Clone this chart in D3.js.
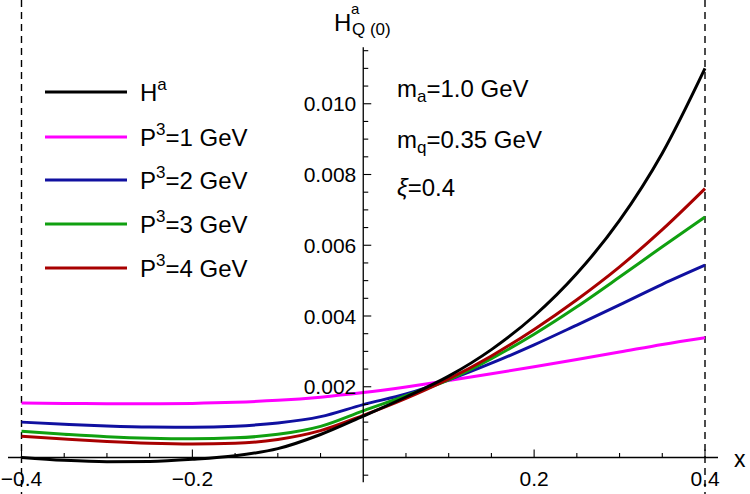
<!DOCTYPE html>
<html><head><meta charset="utf-8">
<script src="https://cdn.jsdelivr.net/npm/d3@7"></script>
<style>body{margin:0;background:#fff}svg{display:block}text{font-family:"Liberation Sans",Arial,sans-serif;fill:#000}</style>
</head><body><svg id="c" width="750" height="494"></svg>
<script>
const xs = [-0.4,-0.35,-0.3,-0.25,-0.2,-0.15,-0.1,-0.05,0,0.05,0.1,0.15,0.2,0.25,0.3,0.35,0.4];
const hA = [0,-0.00008,-0.00012,-0.00011,-0.00005,0.00005,0.00025,0.00065,0.00117,0.00171,0.0023,0.00305,0.004,0.0052,0.0067,0.0086,0.011];
const p1 = [0.00154,0.00153,0.00152,0.00152,0.00153,0.00156,0.001615,0.001705,0.001835,0.001995,0.002175,0.002365,0.002565,0.00277,0.00298,0.003195,0.003385];
const p2 = [0.001,0.00094,0.00089,0.00086,0.000855,0.000885,0.000975,0.001155,0.001495,0.001795,0.002195,0.002665,0.003185,0.003745,0.004315,0.004895,0.005435];
const p3 = [0.00074,0.00066,0.00059,0.000545,0.00053,0.000555,0.000655,0.00088,0.00132,0.001745,0.002195,0.002795,0.003485,0.00426,0.0051,0.00596,0.0068];
const p4 = [0.0006,0.00052,0.00045,0.0004,0.00038,0.0004,0.00051,0.00076,0.00119,0.00167,0.00222,0.00287,0.00362,0.00446,0.00539,0.00644,0.0076];
const colors = ["#000000","#ff00ff","#1010a0","#10a010","#a80000"];
const legendLabels = [["H","a"],["P","3","=1 GeV"],["P","3","=2 GeV"],["P","3","=3 GeV"],["P","3","=4 GeV"]];
const xTicks = [-0.4,-0.2,0.2,0.4];
const xTickLabels = ["\u22120.4","\u22120.2","0.2","0.4"];
const yTicks = [0.002,0.004,0.006,0.008,0.010];
const yTickLabels = ["0.002","0.004","0.006","0.008","0.010"];

const svg = d3.select("#c");
const x = d3.scaleLinear().domain([-0.4,0.4]).range([21.5,705]);
const y = d3.scaleLinear().domain([0,0.01]).range([457.5,103.75]);
const x0 = x(0), y0 = y(0);

[-0.4,0.4].forEach(v=>{
  svg.append("line").attr("x1",x(v)).attr("x2",x(v)).attr("y1",0).attr("y2",494)
    .attr("stroke","#000").attr("stroke-width",1.4).attr("stroke-dasharray","7,5");
});

const allSeries = [hA,p1,p2,p3,p4];
const line = d3.line().x((d,i)=>x(xs[i])).y(d=>y(d)).curve(d3.curveMonotoneX);
[1,2,3,4,0].forEach(k=>{
  svg.append("path").attr("d",line(allSeries[k])).attr("fill","none")
    .attr("stroke",colors[k]).attr("stroke-width",3);
});

const ax = svg.append("g");
ax.append("line").attr("x1",8).attr("x2",718).attr("y1",y0).attr("y2",y0).attr("stroke","#000").attr("stroke-width",1.3);
d3.range(-8,9).forEach(k=>{
  if (k===0) return;
  const v = k*0.05, major = k%4===0;
  ax.append("line").attr("x1",x(v)).attr("x2",x(v)).attr("y1",y0).attr("y2",y0-(major?8:4.5))
    .attr("stroke","#000").attr("stroke-width",1.1);
});
xTicks.forEach((v,i)=>{
  ax.append("text").attr("x",x(v)).attr("y",y0+28).attr("text-anchor","middle")
    .attr("font-size",21).text(xTickLabels[i]);
});
ax.append("text").attr("x",734).attr("y",y0+9).attr("font-size",23).text("x");

const ay = svg.append("g");
ay.append("line").attr("x1",x0).attr("x2",x0).attr("y1",y(-0.0007)).attr("y2",y(0.0116)).attr("stroke","#000").attr("stroke-width",1.3);
d3.range(-1,24).forEach(k=>{
  if (k===0) return;
  const v = k*0.0005, major = k%4===0;
  ay.append("line").attr("x1",x0).attr("x2",x0+(major?8:5)).attr("y1",y(v)).attr("y2",y(v))
    .attr("stroke","#000").attr("stroke-width",1.1);
});
yTicks.forEach((v,i)=>{
  ay.append("text").attr("x",x0-7).attr("y",y(v)+7.5).attr("text-anchor","end")
    .attr("font-size",21).text(yTickLabels[i]);
});
svg.append("text").attr("x",334).attr("y",31).attr("font-size",24).text("H");
svg.append("text").attr("x",351).attr("y",14).attr("font-size",15).text("a");
svg.append("text").attr("x",352).attr("y",35).attr("font-size",17).text("Q (0)");

const ly = [92,137,180,224,268];
legendLabels.forEach((lab,i)=>{
  svg.append("line").attr("x1",45).attr("x2",127).attr("y1",ly[i]).attr("y2",ly[i])
    .attr("stroke",colors[i]).attr("stroke-width",3);
  const t = svg.append("text").attr("x",140).attr("y",ly[i]+9).attr("font-size",24);
  t.append("tspan").text(lab[0]);
  t.append("tspan").attr("font-size",17).attr("dy",-11).text(lab[1]);
  if (lab[2]) t.append("tspan").attr("dy",11).text(lab[2]);
});

const ann = [["m","a","=1.0 GeV"],["m","q","=0.35 GeV"]];
const annY = [97,148];
ann.forEach((a,i)=>{
  const t = svg.append("text").attr("x",397).attr("y",annY[i]).attr("font-size",24);
  t.append("tspan").text(a[0]);
  t.append("tspan").attr("font-size",17).attr("dy",5).text(a[1]);
  t.append("tspan").attr("dy",-5).text(a[2]);
});
const t3 = svg.append("text").attr("x",397).attr("y",196).attr("font-size",24);
t3.append("tspan").attr("font-style","italic").text("\u03be");
t3.append("tspan").text("=0.4");
</script></body></html>
